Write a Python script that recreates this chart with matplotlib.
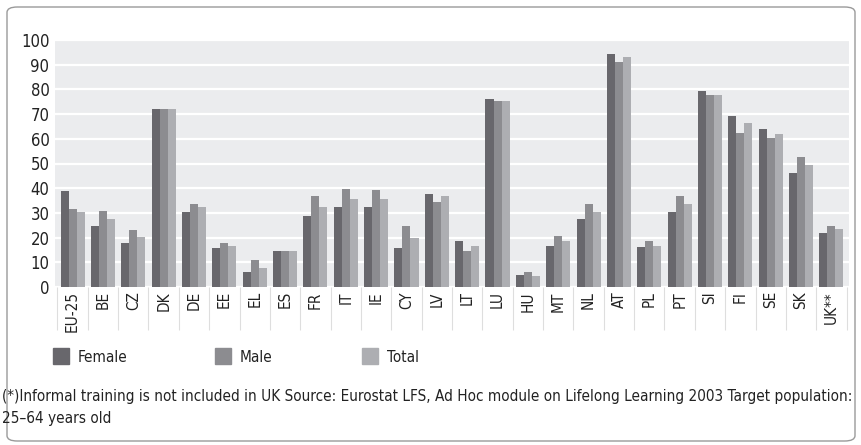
import matplotlib.pyplot as plt
from matplotlib.patches import FancyBboxPatch
import numpy as np

plt.rcParams['font.family'] = ['DejaVu Sans']
plt.rcParams['font.stretch'] = 'condensed'

countries = ["EU-25", "BE", "CZ", "DK", "DE", "EE", "EL", "ES", "FR", "IT", "IE", "CY", "LV",
             "LT", "LU", "HU", "MT", "NL", "AT", "PL", "PT", "SI", "FI", "SE", "SK", "UK**"]
female = [38.8, 24.6, 17.7, 72.0, 30.3, 15.7, 5.9, 14.5, 28.6, 32.3, 32.3, 15.7, 37.6,
          18.5, 76.1, 4.7, 16.5, 27.4, 94.3, 16.1, 30.3, 79.3, 69.2, 63.9, 46.1, 21.8]
male = [31.5, 30.7, 23.0, 72.0, 33.5, 17.7, 10.8, 14.5, 36.8, 39.6, 39.2, 24.6, 34.3,
        14.5, 75.3, 5.9, 20.5, 33.5, 91.1, 18.5, 36.8, 77.7, 62.3, 60.3, 52.6, 24.6]
total = [30.3, 27.4, 20.1, 72.0, 32.3, 16.5, 7.6, 14.5, 32.3, 35.5, 35.5, 19.7, 36.8,
         16.5, 75.3, 4.3, 18.5, 30.3, 93.1, 16.5, 33.5, 77.7, 66.4, 61.9, 49.3, 23.4]
series = ["Female", "Male", "Total"]
colors = ["#68676c", "#8c8c90", "#adaeb2"]

fig = plt.figure(figsize=(8.61, 4.45), dpi=100)
ax = fig.add_axes([55/861, 1-287/445, 794/861, 247/445])

# rounded outer frame
frame = FancyBboxPatch((7/861, 4/445), 848/861, 434/445, boxstyle="round,pad=0,rounding_size=0.012",
                       transform=fig.transFigure, fill=False, edgecolor="#9a9a9a", lw=1.0)
fig.patches.append(frame)

x = np.arange(len(countries))
w = 0.265
for i, (vals, name) in enumerate(zip([female, male, total], series)):
    ax.bar(x + (i - 1) * w, vals, w, color=colors[i], label=name, zorder=3)

ax.set_facecolor("#ebecee")
ax.set_xlim(-0.58, len(countries) - 0.42)
ax.set_ylim(0, 100)
ax.set_yticks(range(0, 101, 10))
ax.yaxis.grid(True, color="white", lw=1.6, zorder=1)
ax.set_axisbelow(True)
for s in ax.spines.values():
    s.set_visible(False)
ax.tick_params(axis="y", length=0, labelsize=12, labelcolor="#222222", pad=4)
ax.set_xticks(x)
ax.set_xticklabels(countries, rotation=90, fontsize=11, color="#222222", va="top")
ax.tick_params(axis="x", length=0, pad=3)

# separators between category label cells
ax.vlines(np.arange(len(countries) + 1) - 0.5, -0.175, 0, transform=ax.get_xaxis_transform(),
          colors="#dedede", lw=0.8, clip_on=False)

# legend
for i, name in enumerate(series):
    lx = [53, 215, 362][i]
    fig.patches.append(plt.Rectangle((lx/861, 1-364/445), 16/861, 16/445, transform=fig.transFigure,
                                     color=colors[i]))
    fig.text((lx + 25)/861, 1-357/445, name, fontsize=11, va="center", color="#222222")

fig.text(2/861, 1-396/445,
         "(*)Informal training is not included in UK Source: Eurostat LFS, Ad Hoc module on Lifelong Learning 2003 Target population:",
         fontsize=11, va="center", color="#222222")
fig.text(2/861, 1-418/445, "25\u201364 years old", fontsize=11, va="center", color="#222222")

fig.savefig("out.png", dpi=100)
